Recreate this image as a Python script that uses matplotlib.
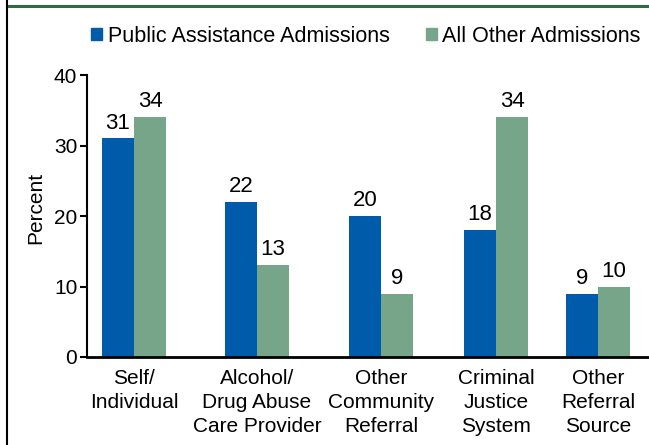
import matplotlib
matplotlib.use("Agg")
import matplotlib.pyplot as plt
from matplotlib.lines import Line2D
from matplotlib.patches import Rectangle

categories = ["Self/\nIndividual", "Alcohol/\nDrug Abuse\nCare Provider", "Other\nCommunity\nReferral",
              "Criminal\nJustice\nSystem", "Other\nReferral\nSource"]
public_assistance = [31, 22, 20, 18, 9]
all_other = [34, 13, 9, 34, 10]
series_names = ["Public Assistance Admissions", "All Other Admissions"]
yticks = [0, 10, 20, 30, 40]

# layout (group centres in axis units, px-like)
centers = [47, 170, 294, 409, 511]
bw = 32

blue = "#005BAA"
green = "#76A58A"
FS = 15

plt.rcParams['font.family'] = ['Liberation Sans', 'DejaVu Sans']
W, H = 649, 445
fig = plt.figure(figsize=(W/100, H/100), dpi=100)
ax = fig.add_axes([87/W, (H-357)/H, (649-87)/W, (357-75)/H])

ax.bar([c - bw/2 for c in centers], public_assistance, width=bw, color=blue, label=series_names[0])
ax.bar([c + bw/2 for c in centers], all_other, width=bw, color=green, label=series_names[1])

for c, v in zip(centers, public_assistance):
    ax.text(c - bw/2, v + 1.4, str(v), ha='center', va='baseline', fontsize=16)
for c, v in zip(centers, all_other):
    ax.text(c + bw/2, v + 1.4, str(v), ha='center', va='baseline', fontsize=16)

ax.set_xlim(0, 562)
ax.set_ylim(0, 40)
ax.set_yticks(yticks)
ax.set_yticklabels([str(t) for t in yticks], fontsize=FS)
ax.set_xticks(centers)
ax.set_xticklabels(categories, fontsize=FS, linespacing=1.33)
ax.tick_params(axis='x', length=0, pad=8.5)
ax.tick_params(axis='y', length=5, width=1.5, direction='out', pad=2)
for s in ['top', 'right']:
    ax.spines[s].set_visible(False)
ax.spines['left'].set_linewidth(1.5)
ax.spines['bottom'].set_linewidth(2)
ax.set_ylabel("Percent", fontsize=FS)
ax.yaxis.set_label_coords(-0.075, 0.53)

# legend
handles = [Rectangle((0, 0), 1, 1, color=blue), Rectangle((0, 0), 1, 1, color=green)]
fig.legend(handles, series_names, loc='center', bbox_to_anchor=(366/W, (H-36)/H), ncol=2,
           frameon=False, fontsize=15.5, handlelength=0.5, handleheight=0.5,
           handletextpad=0.25, columnspacing=1.7)

# frame lines
fig.add_artist(Line2D([7/W, 1], [(H-6)/H, (H-6)/H], color="#2E6B45", lw=2.2, transform=fig.transFigure))
fig.add_artist(Line2D([7/W, 7/W], [0, 1], color="black", lw=1.5, transform=fig.transFigure))

fig.savefig("out.png", dpi=100)
